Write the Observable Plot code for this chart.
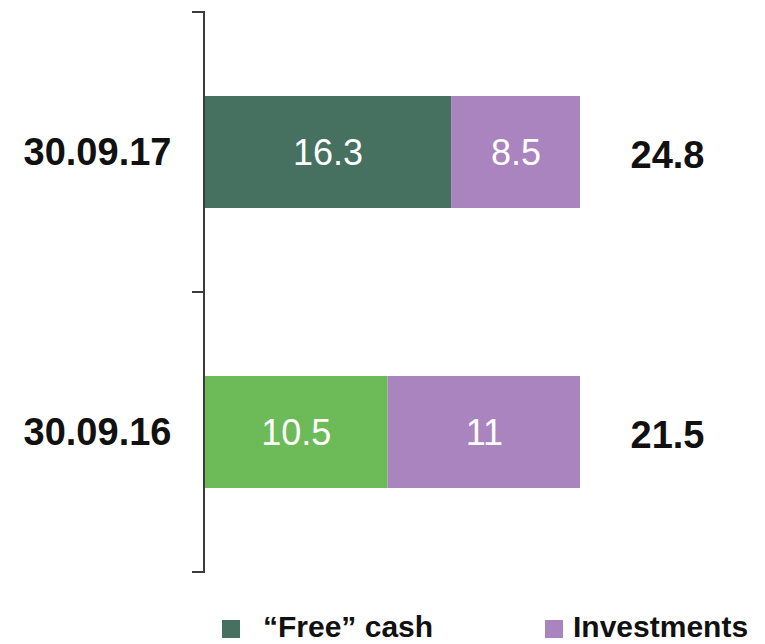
<!DOCTYPE html>
<html>
<head>
<meta charset="utf-8">
<script src="https://cdn.jsdelivr.net/npm/d3@7"></script>
<script src="https://cdn.jsdelivr.net/npm/@observablehq/plot@0.6"></script>
<style>
  body { margin: 0; background: #fff; font-family: "Liberation Sans", Arial, sans-serif; }
  #wrap { width: 765px; }
  #legend { position: relative; width: 765px; height: 44px; font-size: 30px; font-weight: bold; color: #111; }
  .sw { position: absolute; width: 18px; height: 18px; top: 20px; }
  .lt { position: absolute; top: 12px; line-height: 30px; white-space: nowrap; }
</style>
</head>
<body>
<div id="wrap"></div>
<script>
const dates = ["30.09.17", "30.09.16"];
const series = ["\u201CFree\u201D cash", "Investments"];
const freeCash = [16.3, 10.5];
const investments = [8.5, 11];
const totals = ["24.8", "21.5"];

const freeCashColors = {"30.09.17": "#46705F", "30.09.16": "#6DBB58"};
const investColor = "#A984BF";

const data = dates.flatMap((d, i) => [
  {date: d, series: series[0], value: freeCash[i]},
  {date: d, series: series[1], value: investments[i]}
]);

const fillOf = d => d.series === series[0] ? freeCashColors[d.date] : investColor;

const axisMark = (index, scales, values, dims) => {
  const g = d3.create("svg:g").attr("stroke", "#3c3c3c").attr("stroke-width", 2).attr("fill", "none");
  const x0 = scales.x(0);
  const top = dims.marginTop, bottom = dims.height - dims.marginBottom;
  const mid = (top + bottom) / 2;
  g.append("line").attr("x1", x0).attr("x2", x0).attr("y1", top - 1).attr("y2", bottom + 1);
  for (const y of [top, mid, bottom]) {
    g.append("line").attr("x1", x0 - 12).attr("x2", x0).attr("y1", y).attr("y2", y);
  }
  return g.node();
};

const chart = Plot.plot({
  width: 765,
  height: 600,
  marginLeft: 204,
  marginRight: 185,
  marginTop: 12,
  marginBottom: 28,
  style: {fontFamily: "'Liberation Sans', Arial, sans-serif", background: "#fff"},
  x: {axis: null, domain: [0, 1]},
  y: {domain: dates, paddingInner: 0.6, paddingOuter: 0.3, axis: null},
  marks: [
    Plot.barX(data, Plot.stackX({x: "value", y: "date", z: "series", fill: fillOf, offset: "normalize"})),
    Plot.text(data, Plot.stackX({x: "value", y: "date", z: "series", offset: "normalize",
      text: d => String(d.value), fill: "white", fontSize: 36, dy: 1})),
    Plot.axisY({domain: dates, label: null, tickSize: 0, tickPadding: 107, textAnchor: "middle",
      fontSize: 38, fontWeight: "bold", fill: "#111"}),
    Plot.text(dates, {x: () => 1, y: d => d, text: (d, i) => totals[i], dx: 87, dy: 3,
      fontSize: 38, fontWeight: "bold", fill: "#111"}),
    axisMark
  ]
});
document.getElementById("wrap").appendChild(chart);

const legend = document.createElement("div");
legend.id = "legend";
legend.innerHTML = `
  <div class="sw" style="left:222px;background:${freeCashColors["30.09.17"]}"></div>
  <div class="lt" style="left:263px">${series[0]}</div>
  <div class="sw" style="left:545px;background:${investColor}"></div>
  <div class="lt" style="left:573px">${series[1]}</div>`;
document.getElementById("wrap").appendChild(legend);
</script>
</body>
</html>
